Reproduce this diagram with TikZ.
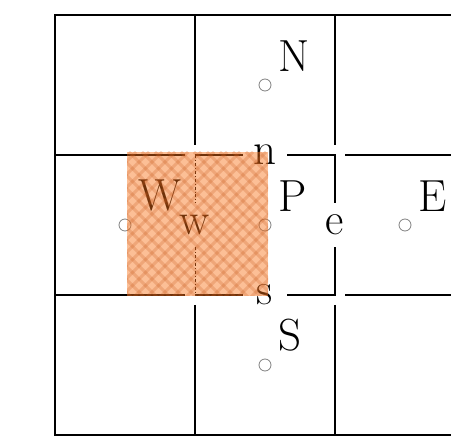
\documentclass[tikz,border=0pt]{standalone}
\usepackage{fontspec}
\usepackage{xcolor}
\usepackage{tikz}
\definecolor{hatchbase}{RGB}{248,113,23}
\definecolor{hatchline}{RGB}{200,90,30}

\begin{document}
\begin{tikzpicture}[
  x=1pt, y=-1pt,
  grid/.style={line width=2.8pt},
  wface/.style={line width=0.9pt, dash dot},
  pt/.style={circle, draw=gray, line width=0.8pt, minimum size=12pt, inner sep=0pt},
  lbl/.style={label distance=10pt, inner sep=2pt, font=\fontsize{45}{54}\selectfont},
  face/.style={inner sep=0pt, minimum width=44pt, minimum height=44pt,
               font=\fontsize{45}{54}\selectfont},
  hatchfill/.style={fill=hatchbase, fill opacity=0.45},
  hatchlines/.style={draw=hatchline, line width=3pt, draw opacity=0.25}
]
\clip (0,0) rectangle (451,443);
\draw[grid] (55,15) rectangle (475,435);
\foreach \c in {195,335} {
  \draw[grid] (\c,15) -- (\c,145) (\c,305) -- (\c,435);
}
\foreach \r in {155,295} {
  \draw[grid] (55,\r) -- (185,\r) (345,\r) -- (475,\r);
}
\coordinate (Pnw) at (195,155);
\coordinate (Pne) at (335,155);
\coordinate (Pse) at (335,295);
\coordinate (Psw) at (195,295);
\node[face] (n) at (265,155) {n};
\node[face] (e) at (335,225) {e};
\node[face] (s) at (265,295) {s};
\node[face] (w) at (195,225) {w};
\draw[grid] (Pnw) -- (n) -- (Pne) -- (e) -- (Pse) -- (s) -- (Psw);
\draw[wface] (Pnw) -- (w) -- (Psw);
\node[pt, label={[lbl]45:N}] (N) at (265,85) {};
\node[pt, label={[lbl]45:W}] (W) at (125,225) {};
\node[pt, label={[lbl]45:P}] (P) at (265,225) {};
\node[pt, label={[lbl]45:E}] (E) at (405,225) {};
\node[pt, label={[lbl]45:S}] (S) at (265,365) {};
\fill[hatchfill] (127,152) rectangle (268,296);
\begin{scope}
  \clip (127,152) rectangle (268,296);
  \foreach \x in {-20,-7,...,420} {
    \draw[hatchlines] (\x-150,152) -- ++(150,150);
    \draw[hatchlines] (\x,152) -- ++(-150,150);
  }
\end{scope}
\end{tikzpicture}
\end{document}
